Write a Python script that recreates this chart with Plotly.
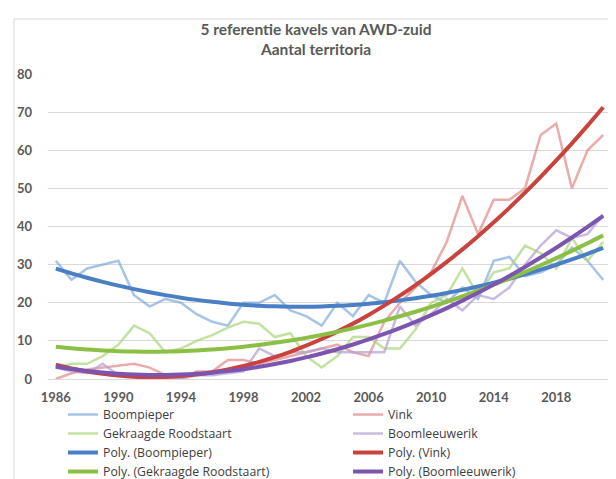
import numpy as np
import plotly.graph_objects as go

years = list(range(1986, 2022))

boompieper = [31, 26, 29, 30, 31, 22, 19, 21, 20, 17, 15, 14, 20, 20, 22, 18, 16.5, 14,
              20, 16.5, 22, 20, 31, 25.5, 22, 20, 24, 21, 31, 32, 27, 28, 30, 34.5, 31, 26]
vink = [0, 1.5, 2.5, 3, 3.5, 4, 3, 1, 0, 2, 2, 5, 5, 4, 5, 6, 7, 8, 9, 7,
        6, 15, 20, 24, 28, 36, 48, 38, 47, 47, 50, 64, 67, 50, 60, 64]
gekraagde = [3, 4, 4, 6, 9, 14, 12, 7, 8, 10, 11.5, 13.5, 15, 14.5, 11, 12, 6, 3, 6, 11,
             11, 8, 8, 13, 20, 22, 29, 22, 28, 29, 35, 33, 29, 37, 31, 36]
boomleeuwerik = [3, 2, 1.5, 4, 1, 1, 0.5, 0, 0, 1, 1, 1.5, 2, 8, 6, 7, 7, 8, 7, 7,
                 7, 7, 19, 14, 17, 21, 18, 22, 21, 24, 30, 35, 39, 37, 38, 43]

names = ["Boompieper", "Vink", "Gekraagde Roodstaart", "Boomleeuwerik"]
series = [boompieper, vink, gekraagde, boomleeuwerik]
legend_cols = ["legend", "legend2", "legend", "legend2"]
raw_colors = ["rgba(120,165,220,0.65)", "rgba(225,140,138,0.72)",
              "rgba(175,215,130,0.75)", "rgba(180,160,215,0.72)"]
poly_colors = ["#4A7FC6", "#C9423E", "#8CBF45", "#7B55B0"]
tick_years = [1986, 1990, 1994, 1998, 2002, 2006, 2010, 2014, 2018]
y_ticks = [0, 10, 20, 30, 40, 50, 60, 70, 80]

fig = go.Figure()
for n, s, c, lg in zip(names, series, raw_colors, legend_cols):
    fig.add_trace(go.Scatter(x=years, y=s, mode="lines", name=n, legend=lg,
                             line=dict(color=c, width=2.5)))

xs = np.array(years, dtype=float)
xc = xs - xs.mean()
for n, s, c, lg in zip(names, series, poly_colors, legend_cols):
    coef = np.polyfit(xc, np.array(s, dtype=float), 2)
    fig.add_trace(go.Scatter(x=years, y=np.polyval(coef, xc), mode="lines", legend=lg,
                             name=f"Poly. ({n})", line=dict(color=c, width=4, shape="spline")))

legend_common = dict(orientation="v", xref="container", yref="container",
                     xanchor="left", yanchor="top", itemwidth=30, tracegroupgap=0,
                     bgcolor="rgba(0,0,0,0)",
                     font=dict(size=12.3, color="#404040", family="Open Sans"))

fig.update_layout(
    width=616, height=479,
    margin=dict(l=40, r=13, t=66, b=108, autoexpand=False),
    paper_bgcolor="white", plot_bgcolor="white",
    font=dict(family="Lato, Open Sans, sans-serif", color="#595959"),
    title=dict(text="5 referentie kavels van AWD-zuid<br>Aantal territoria",
               x=0.5, xanchor="center", xref="container", y=0.943, yanchor="top",
               font=dict(size=15.5, color="#595959", family="Lato", weight="bold")),
    xaxis=dict(range=[1985.5, 2021.5], tickmode="array", tickvals=tick_years,
               ticktext=[str(t) for t in tick_years], showgrid=False, zeroline=False,
               showline=True, linecolor="#D9D9D9", linewidth=1, ticks="",
               ticklabelstandoff=6,
               tickfont=dict(size=13, color="#595959", weight="bold")),
    yaxis=dict(range=[0, 80], tickmode="array", tickvals=y_ticks, showgrid=True,
               gridcolor="#D9D9D9", gridwidth=1, zeroline=False, ticks="",
               ticklabelstandoff=15,
               tickfont=dict(size=13, color="#595959", weight="bold")),
    legend=dict(x=0.0893, y=0.1816, **legend_common),
    legend2=dict(x=0.552, y=0.1816, **legend_common),
    showlegend=True,
)
fig.add_shape(type="rect", xref="paper", yref="paper", x0=-0.0604, x1=1.0142,
              y0=-0.40, y1=1.1805, line=dict(color="#D9D9D9", width=1), layer="below")

fig.write_html("out.html")
